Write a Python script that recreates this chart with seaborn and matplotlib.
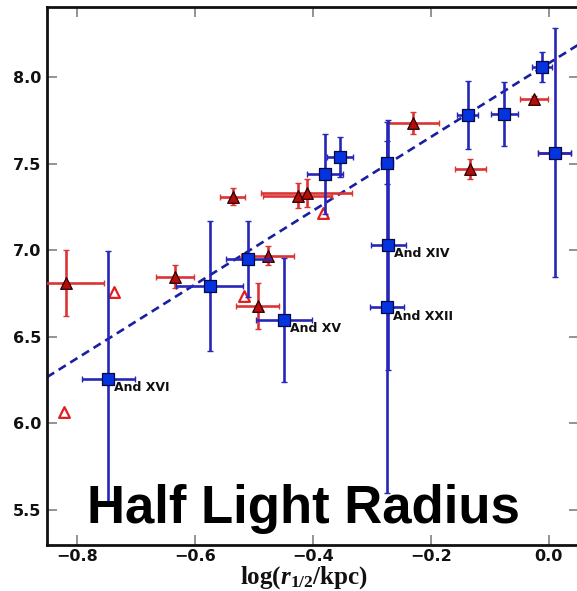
import matplotlib
matplotlib.use("Agg")
import matplotlib.pyplot as plt
import numpy as np
import pandas as pd
import seaborn as sns

# Dwarf galaxies with measured dispersions (blue squares)
blue_x = [-0.747, -0.575, -0.510, -0.449, -0.380, -0.354, -0.275, -0.272, -0.275,
          -0.138, -0.076, -0.011, 0.010]
blue_y = [6.257, 6.794, 6.948, 6.598, 7.439, 7.537, 7.505, 7.031, 6.671,
          7.781, 7.785, 8.059, 7.563]
blue_xerr = [0.045, 0.057, 0.037, 0.047, 0.031, 0.022, 0.010, 0.029, 0.029,
             0.018, 0.023, 0.017, 0.028]
blue_yerr_lo = [0.71, 0.375, 0.22, 0.357, 0.23, 0.115, 0.125, 0.72, 1.07,
                0.197, 0.185, 0.087, 0.72]
blue_yerr_hi = [0.74, 0.375, 0.22, 0.357, 0.23, 0.115, 0.125, 0.72, 1.07,
                0.197, 0.185, 0.087, 0.72]
blue_names = ["And XVI", "", "", "And XV", "", "", "", "And XIV", "And XXII",
              "", "", "", ""]

# Comparison sample (red filled triangles)
red_x = [-0.819, -0.634, -0.536, -0.426, -0.411, -0.477, -0.494, -0.230,
         -0.133, -0.025, 0.010]
red_y = [6.810, 6.848, 7.309, 7.315, 7.332, 6.967, 6.679, 7.733,
         7.469, 7.873, 7.563]
red_xerr = [0.064, 0.032, 0.021, 0.058, 0.077, 0.045, 0.037, 0.044,
            0.027, 0.024, 0.028]
red_yerr = [0.192, 0.065, 0.05, 0.072, 0.08, 0.055, 0.134, 0.063,
            0.058, 0.02, 0.0]

# Objects without error estimates (open triangles)
open_x = [-0.822, -0.737, -0.517, -0.383]
open_y = [6.065, 6.761, 6.736, 7.217]

# Best-fit relation
fit_slope = 2.13
fit_intercept = 8.08

x_ticks = [-0.8, -0.6, -0.4, -0.2, 0.0]
y_ticks = [5.5, 6.0, 6.5, 7.0, 7.5, 8.0]

sns.set_theme(style="ticks")
plt.rcParams.update({
    "font.family": ["DejaVu Sans"],
    "mathtext.fontset": "custom",
    "mathtext.rm": "Liberation Serif:bold",
    "mathtext.it": "Liberation Serif:bold:italic",
    "mathtext.bf": "Liberation Serif:bold",
})

blue_df = pd.DataFrame({"x": blue_x, "y": blue_y})
red_df = pd.DataFrame({"x": red_x, "y": red_y})
open_df = pd.DataFrame({"x": open_x, "y": open_y})

W, H = 577, 591
fig = plt.figure(figsize=(W / 100, H / 100), dpi=100)
fig.patch.set_facecolor("white")
ax = fig.add_axes([47 / W, 46 / H, 532 / W, 538 / H])
ax.set_facecolor("white")

# fit line
ax.axline((0.0, fit_intercept), slope=fit_slope, color="#1a1ea0", lw=1.9,
          dashes=(3.2, 2.0), zorder=2)

# red error bars and markers
ax.errorbar(red_x, red_y, xerr=red_xerr, yerr=red_yerr, fmt="none",
            ecolor="#dc3434", elinewidth=1.9, capsize=2.5, capthick=1.0, zorder=3)
sns.scatterplot(data=red_df, x="x", y="y", marker="^", s=70, color="#b50c0c",
                edgecolor="#2a0000", linewidth=0.9, ax=ax, zorder=4)
sns.scatterplot(data=open_df, x="x", y="y", marker="^", s=60, facecolor="white",
                edgecolor="#e02020", linewidth=1.6, ax=ax, zorder=4)

# blue error bars and markers
ax.errorbar(blue_x, blue_y, xerr=blue_xerr, yerr=[blue_yerr_lo, blue_yerr_hi],
            fmt="none", ecolor="#2626b8", elinewidth=1.9, capsize=2.5,
            capthick=1.0, zorder=5)
sns.scatterplot(data=blue_df, x="x", y="y", marker="s", s=80, color="#0433e0",
                edgecolor="#080845", linewidth=0.9, ax=ax, zorder=6)

for bx, by, name in zip(blue_x, blue_y, blue_names):
    if name:
        ax.annotate(name, (bx, by), xytext=(4.3, -6.5), textcoords="offset points",
                    ha="left", va="center", fontsize=9, fontweight="bold",
                    color="#111111", zorder=7)

ax.set_xlim(-0.851, 0.051)
ax.set_ylim(5.298, 8.404)
ax.set_xticks(x_ticks)
ax.set_yticks(y_ticks)
ax.set_xticklabels([f"{v:.1f}".replace("-", "\u2212") for v in x_ticks])
ax.set_yticklabels([f"{v:.1f}" for v in y_ticks])
ax.tick_params(axis="both", which="major", direction="in", length=7, width=1.2,
               color="#808080", labelsize=11.5, top=True, right=True,
               labelcolor="#111111")
ax.tick_params(axis="x", pad=3)
ax.tick_params(axis="y", pad=4)
plt.setp(ax.get_xticklabels() + ax.get_yticklabels(), fontweight="bold")

for side in ["left", "bottom", "top", "right"]:
    ax.spines[side].set_linewidth(2.0)
    ax.spines[side].set_color("#111111")

ax.set_xlabel(r"$\mathrm{log}(r_{1/2}/\mathrm{kpc})$", fontsize=18, color="#111111")
ax.set_ylabel("")
ax.xaxis.set_label_coords((304 - 47) / 532, -(584 - 545) / 538)
ax.xaxis.label.set_va("baseline")

fig.text(303 / W, 1 - 523 / H, "Half Light Radius", ha="center", va="baseline",
         fontsize=38, fontweight="bold", family=["Liberation Sans"], color="black",
         zorder=10)

fig.savefig("out.png", dpi=100, facecolor="white")
